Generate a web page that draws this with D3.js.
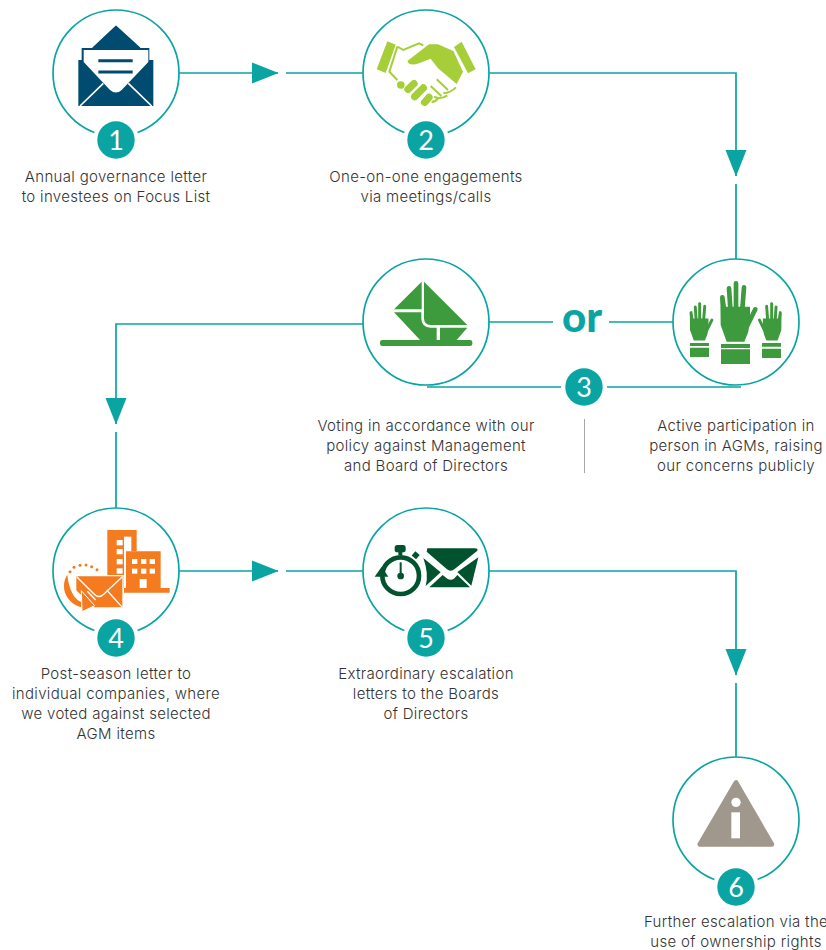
<!DOCTYPE html>
<html>
<head>
<meta charset="utf-8">
<script src="https://cdn.jsdelivr.net/npm/d3@7"></script>
<style>
  html, body { margin: 0; padding: 0; background: #fff; overflow: hidden; }
  svg { display: block; }
  .label { font-family: "Inter", sans-serif; font-size: 15px; font-weight: 300; fill: #333; letter-spacing: 0.33px; text-anchor: middle; }
  .num { font-family: "Lato", sans-serif; font-size: 27px; font-weight: 400; fill: #fff; text-anchor: middle; }
</style>
</head>
<body>
<svg id="chart" width="826" height="950"></svg>
<script>
// the steps
const nodeIds = ['letter', 'meet', 'vote', 'agm', 'post', 'extra', 'rights'];
const nodeCols = [0, 1, 1, 2, 0, 1, 2];
const nodeRows = [0, 0, 1, 1, 2, 2, 3];
const badgeNumbers = ['1', '2', null, null, '4', '5', '6'];
const nodeLabels = [
  ['Annual governance letter', 'to investees on Focus List'],
  ['One-on-one engagements', 'via meetings/calls'],
  ['Voting in accordance with our', 'policy against Management', 'and Board of Directors'],
  ['Active participation in', 'person in AGMs, raising', 'our concerns publicly'],
  ['Post-season letter to', 'individual companies, where', 'we voted against selected', 'AGM items'],
  ['Extraordinary escalation', 'letters to the Boards', 'of Directors'],
  ['Further escalation via the', 'use of ownership rights']
];
const columns = [0, 1, 2];
const rows = [0, 1, 2, 3];

const teal = '#0aa5a3';
const svg = d3.select('#chart');
const x = d3.scalePoint().domain(columns).range([116, 736]);
const y = d3.scalePoint().domain(rows).range([73, 820]);
const R = 63, badgeR = 18.7, haloR = 23, badgeDy = 67;

const nodes = nodeIds.map((id, i) => ({
  id, x: x(nodeCols[i]), y: y(nodeRows[i]), row: nodeRows[i], num: badgeNumbers[i], label: nodeLabels[i]
}));
const byId = id => nodes.find(n => n.id === id);
const line = d3.line();

function wire(pts) {
  svg.append('path').attr('d', line(pts)).attr('fill', 'none')
    .attr('stroke', teal).attr('stroke-width', 1.7);
}

// arrow head with the small white cut just after it
function arrow(cx, cy, dir) {
  const g = svg.append('g').attr('transform', `translate(${cx},${cy}) rotate(${dir === 'down' ? 90 : 0})`);
  g.append('rect').attr('x', 13).attr('y', -3).attr('width', 8).attr('height', 6).attr('fill', '#fff');
  g.append('path').attr('d', 'M-13,-10.5L13.5,0L-13,10.5Z').attr('fill', teal);
}

const letter = byId('letter'), meet = byId('meet'), vote = byId('vote'), agm = byId('agm'),
  post = byId('post'), extra = byId('extra'), rights = byId('rights');

wire([[letter.x + R, letter.y], [meet.x - R, meet.y]]);
arrow(letter.x + 149, letter.y, 'right');
wire([[meet.x + R, meet.y], [agm.x, meet.y], [agm.x, agm.y - R]]);
arrow(agm.x, meet.y + 90, 'down');
wire([[vote.x - R, vote.y + 2], [post.x, vote.y + 2], [post.x, post.y - R]]);
arrow(post.x, vote.y + 89, 'down');
wire([[post.x + R, post.y], [extra.x - R, extra.y]]);
arrow(post.x + 149, post.y, 'right');
wire([[extra.x + R, extra.y], [rights.x, extra.y], [rights.x, rights.y - R]]);
arrow(rights.x, extra.y + 91, 'down');

// "or" link between the two step 3 options
wire([[vote.x + R, vote.y], [agm.x - R, vote.y]]);
svg.append('rect').attr('x', 553).attr('y', vote.y - 12).attr('width', 56).attr('height', 24).attr('fill', '#fff');
svg.append('text').attr('x', 582).attr('y', 332).attr('text-anchor', 'middle')
  .attr('font-family', 'Lato, sans-serif').attr('font-weight', 900).attr('font-size', 42)
  .attr('fill', teal).text('or');

// bracket under step 3
wire([[vote.x + 1, 387], [agm.x + 5, 387]]);

// node circles
const nodeG = svg.selectAll('g.node').data(nodes).join('g').attr('class', 'node')
  .attr('transform', d => `translate(${d.x},${d.y})`);
nodeG.append('circle').attr('r', R).attr('fill', 'none').attr('stroke', teal).attr('stroke-width', 1.7);

// badges
function badge(bx, by, num) {
  svg.append('circle').attr('cx', bx).attr('cy', by).attr('r', haloR).attr('fill', '#fff');
  svg.append('circle').attr('cx', bx).attr('cy', by).attr('r', badgeR).attr('fill', teal);
  svg.append('text').attr('class', 'num').attr('x', bx).attr('y', by + 10).text(num);
}
nodes.filter(d => d.num).forEach(d => badge(d.x, d.y + badgeDy, d.num));
badge(584, 387, '3');

// divider between the step 3 texts
svg.append('line').attr('x1', 584.5).attr('x2', 584.5).attr('y1', 419).attr('y2', 473)
  .attr('stroke', '#a8a8a8').attr('stroke-width', 1);

// labels, the lower rows sit a touch closer to their circle
nodeG.each(function (d) {
  const top = d.row === 3 ? 106.5 : d.row === 2 ? 108 : 108.5;
  d3.select(this).selectAll('text.label').data(d.label).join('text').attr('class', 'label')
    .attr('x', 0)
    .attr('y', (t, i) => top + i * 20)
    .text(t => t);
});

// icons are drawn in zoomed units (3 to a pixel), centred on the node
function icon(node, cx, cy) {
  return svg.append('g')
    .attr('transform', `translate(${node.x},${node.y}) scale(${1 / 3}) translate(${-cx},${-cy})`);
}

function envelopeOpen() {
  const c = '#004b70', g = icon(letter, 228, 219);
  g.append('path').attr('d', 'M228,80L298,144H160Z').attr('fill', c).attr('stroke', c).attr('stroke-width', 6).attr('stroke-linejoin', 'round');
  g.append('path').attr('d', 'M115,180H340V318H115Z').attr('fill', c);
  g.append('path').attr('d', 'M125,144H328V200H125Z').attr('fill', c);
  g.append('path').attr('d', 'M131,150H325V186L245,270Q228,285 210,270L131,186Z').attr('fill', '#fff');
  g.append('path').attr('d', 'M120,318L190,250M335,318L265,250').attr('stroke', '#fff').attr('stroke-width', 5).attr('fill', 'none');
  g.append('path').attr('d', 'M175,182H278M175,216H278').attr('stroke', c).attr('stroke-width', 9).attr('fill', 'none');
}

function handshake() {
  const c = '#a6ce39', g = icon(meet, 226, 219);
  g.append('path').attr('d', 'M110,124L135,134L105,219L78,208ZM333,125L375,208L352,220L310,141Z').attr('fill', c);
  g.append('path').attr('d', 'M170,183L235,133H262L308,153L337,215L318,252L262,205L240,176L205,190Q175,200 170,183Z').attr('fill', c);
  g.append('path').attr('d', 'M140,140L158,150L205,130L218,136M140,140L116,215L140,240').attr('fill', 'none').attr('stroke', c).attr('stroke-width', 6);
  g.append('path').attr('d', 'M150,255L151,255M172,268L190,251M192,290L218,264M222,307L235,292')
    .attr('stroke', c).attr('stroke-width', 22).attr('stroke-linecap', 'round').attr('fill', 'none');
  g.append('path').attr('d', 'M258,238L292,270M240,258L272,288M316,262Q300,278 278,280M290,286Q270,300 250,290M262,295Q255,305 243,306')
    .attr('stroke', c).attr('stroke-width', 6).attr('fill', 'none');
}

function ballot() {
  const c = '#3d9a3d', g = icon(vote, 226, 216);
  g.append('path').attr('d', 'M213,95V178H130Z').attr('fill', c);
  g.append('path').attr('d', 'M220,95L350,225H240Q220,225 220,205Z').attr('fill', c);
  g.append('path').attr('d', 'M130,187H212V205Q212,233 240,233H258V270H208Z').attr('fill', c);
  g.append('path').attr('d', 'M268,233H350L318,270H268Z').attr('fill', c);
  g.append('rect').attr('x', 88).attr('y', 270).attr('width', 277).attr('height', 18).attr('rx', 7).attr('fill', c);
}

function hand(g, tx, ty, s, flip) {
  const c = '#3d9a3d';
  const h = g.append('g').attr('transform', `translate(${tx},${ty}) scale(${flip ? -s : s},${s})`);
  h.append('path').attr('d', 'M-47,-48L-46,35L-28,85H25L37,55L42,10L42,-20H-40Z').attr('fill', c);
  h.append('path').attr('d', 'M-41,-48L-33,10M-21,-75L-16,0M0,-90V0M24,-78L18,0M58,-12L30,45')
    .attr('stroke', c).attr('stroke-width', 14).attr('stroke-linecap', 'round').attr('fill', 'none');
}

function hands() {
  const c = '#3d9a3d', g = icon(agm, 228, 216);
  hand(g, 228, 190, 1, false);
  hand(g, 119, 218, 0.63, false);
  hand(g, 335, 218, 0.63, true);
  g.append('path').attr('fill', c).attr('d',
    'M183,282H270V294H183ZM183,298H270V342H183Z' +
    'M90,279H147V288H90ZM90,293H147V321H90Z' +
    'M306,279H363V290H306ZM306,296H363V324H306Z');
}

function postLetter() {
  const c = '#f47b20', g = icon(post, 226, 211);
  g.append('path').attr('d', 'M200,88H288V152H256V262H200Z').attr('fill', c);
  g.append('rect').attr('x', 250).attr('y', 108).attr('width', 22).attr('height', 154).attr('fill', '#fff');
  g.append('path').attr('d', 'M256,152H360V262H387V276H250V262H256Z').attr('fill', c);
  g.selectAll('rect.w1').data([118, 145, 175, 203]).join('rect').attr('class', 'w1')
    .attr('x', 228).attr('y', d => d).attr('width', 18).attr('height', 16).attr('fill', '#fff');
  [274, 301, 327].forEach(wx => [175, 204].forEach(wy => {
    g.append('rect').attr('x', wx).attr('y', wy).attr('width', 16).attr('height', 15).attr('fill', '#fff');
  }));
  g.append('rect').attr('x', 297).attr('y', 235).attr('width', 21).attr('height', 27).attr('fill', '#fff');
  g.append('path').attr('d', 'M80,222C58,255 72,305 122,320L123,305C98,295 84,262 80,222Z').attr('fill', c);
  g.append('path').attr('d', 'M105,225H247V322H160L105,270Z').attr('fill', c).attr('stroke', '#fff').attr('stroke-width', 4);
  g.append('path').attr('d', 'M108,228L160,280Q175,295 190,280L245,228M245,320L198,268M140,272L165,298')
    .attr('fill', 'none').attr('stroke', '#fff').attr('stroke-width', 4);
  g.append('path').attr('d', 'M122,270L162,315L124,333Z').attr('fill', c).attr('stroke', '#fff').attr('stroke-width', 3);
  const dots = [[88, 213], [100, 200], [118, 194], [136, 193], [153, 198], [169, 207]];
  g.selectAll('circle.dot').data(dots).join('circle').attr('class', 'dot')
    .attr('cx', d => d[0]).attr('cy', d => d[1]).attr('r', 4.5).attr('fill', c);
}

function stopwatch() {
  const c = '#00532e', g = icon(extra, 226, 211);
  g.append('circle').attr('cx', 150).attr('cy', 225).attr('r', 55).attr('fill', 'none').attr('stroke', c).attr('stroke-width', 14);
  g.append('rect').attr('x', 132).attr('y', 133).attr('width', 33).attr('height', 22).attr('rx', 8).attr('fill', c);
  g.append('rect').attr('x', 143).attr('y', 150).attr('width', 12).attr('height', 14).attr('fill', c);
  g.append('rect').attr('x', 187).attr('y', 155).attr('width', 17).attr('height', 17).attr('transform', 'rotate(40 195 163)').attr('fill', c);
  g.append('rect').attr('x', 66).attr('y', 178).attr('width', 26).attr('height', 36).attr('fill', '#fff');
  g.append('path').attr('d', 'M72,228H113L93,198Z').attr('fill', c);
  g.append('path').attr('d', 'M150,185V225').attr('stroke', c).attr('stroke-width', 6);
  g.append('circle').attr('cx', 150).attr('cy', 226).attr('r', 10).attr('fill', c);
  g.append('path').attr('d', 'M230,143H372Q383,143 380,150L312,205Q300,215 288,205L228,153Z').attr('fill', c);
  g.append('path').attr('d', 'M218,172L270,215L225,256Q235,220 218,172Z').attr('fill', c);
  g.append('path').attr('d', 'M383,170L362,255L320,214Z').attr('fill', c);
  g.append('path').attr('d', 'M236,260L276,223L290,234Q300,240 310,234L320,223L358,260Z').attr('fill', c);
}

function warning() {
  const c = '#a0978d', g = icon(rights, 228, 210);
  g.append('path').attr('d', 'M228,98L120,283H335Z').attr('fill', c).attr('stroke', c).attr('stroke-width', 15).attr('stroke-linejoin', 'round');
  g.append('circle').attr('cx', 228).attr('cy', 157).attr('r', 14).attr('fill', '#fff');
  g.append('rect').attr('x', 214).attr('y', 187).attr('width', 26).attr('height', 78).attr('fill', '#fff');
}

envelopeOpen();
handshake();
ballot();
hands();
postLetter();
stopwatch();
warning();
</script>
</body>
</html>
